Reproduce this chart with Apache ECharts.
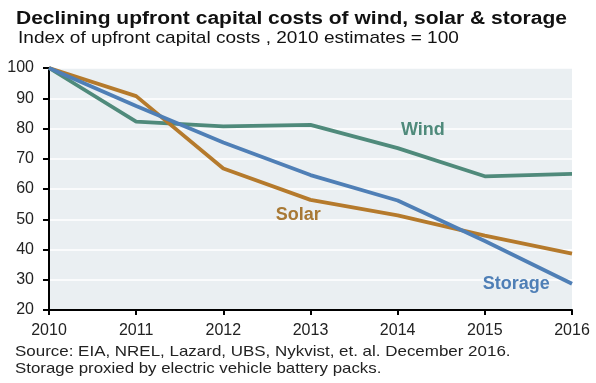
<!DOCTYPE html>
<html><head><meta charset="utf-8">
<script src="https://cdn.jsdelivr.net/npm/echarts@6/dist/echarts.min.js"></script>
<style>html,body{margin:0;padding:0;background:#fff}#c{width:596px;height:383px}</style>
</head><body><div id="c"></div>
<script>
const years = [2010, 2011, 2012, 2013, 2014, 2015, 2016];
const wind = [100, 82.3, 80.7, 81.2, 73.5, 64.2, 65.0];
const solar = [100, 90.7, 66.8, 56.4, 51.3, 44.6, 38.6];
const storage = [100, 87.4, 75.4, 64.6, 56.2, 42.8, 28.7];
const yTicks = [20, 30, 40, 50, 60, 70, 80, 90, 100];
const titleText = 'Declining upfront capital costs of wind, solar & storage';
const subtitleText = 'Index of upfront capital costs , 2010 estimates = 100';
const source1 = 'Source: EIA, NREL, Lazard, UBS, Nykvist, et. al. December 2016.';
const source2 = 'Storage proxied by electric vehicle battery packs.';
const labelPos = { Wind: [2014.29, 79.6], Solar: [2012.86, 51.5], Storage: [2015.36, 28.5] };

const font = 'Arial, "Liberation Sans", sans-serif';
const colors = { Wind: '#4f8a7b', Solar: '#b57a2c', Storage: '#4f7fb6' };
const labelColors = { Wind: '#4f8a7b', Solar: '#a87935', Storage: '#4f7fb6' };

function mk(name, data) {
  return {
    name, type: 'line', data: years.map((y, i) => [y, data[i]]),
    symbol: 'none', lineStyle: { width: 3.8, color: colors[name] }, color: colors[name],
    z: name === 'Storage' ? 4 : (name === 'Solar' ? 3 : 2),
    markPoint: {
      symbol: 'circle', symbolSize: 0,
      data: [{ coord: labelPos[name], value: name }],
      label: { show: true, position: 'inside', formatter: name, color: labelColors[name],
        fontFamily: font, fontWeight: 'bold', fontSize: 18 }
    }
  };
}

function txt(text, x, y, size, weight, sx, color) {
  return { type: 'text', x: x, y: y, scaleX: sx, silent: true,
    style: { text: text, fontFamily: font, fontSize: size, fontWeight: weight,
      fill: color, verticalAlign: 'middle', align: 'left' } };
}

const chart = echarts.init(document.getElementById('c'), null, { renderer: 'canvas' });
chart.setOption({
  animation: false,
  graphic: [
    txt(titleText, 16, 19.5, 18, 'bold', 1.167, '#111'),
    txt(subtitleText, 18, 38, 17, 'normal', 1.12, '#111'),
    txt(source1, 15, 351.5, 15, 'normal', 1.13, '#222'),
    txt(source2, 15, 369, 15, 'normal', 1.124, '#222')
  ],
  grid: { left: 49, right: 24, top: 68, bottom: 73, show: true, backgroundColor: '#eaeff2', borderWidth: 0 },
  xAxis: {
    type: 'value', min: 2010, max: 2016, interval: 1,
    axisLine: { lineStyle: { color: '#000', width: 2 } },
    axisTick: { show: true, length: 5, lineStyle: { color: '#000', width: 2 } },
    axisLabel: { color: '#222', fontFamily: font, fontSize: 16, margin: 13, formatter: v => String(v) },
    splitLine: { show: false }
  },
  yAxis: {
    type: 'value', min: 20, max: 100, interval: 10,
    axisLine: { show: true, lineStyle: { color: '#000', width: 2 } },
    axisTick: { show: true, length: 6, lineStyle: { color: '#000', width: 2 } },
    axisLabel: { color: '#222', fontFamily: font, fontSize: 16, margin: 15,
      formatter: v => yTicks.includes(v) ? String(v) : '' },
    splitLine: { show: true, lineStyle: { color: '#ffffff', width: 1.5 } }
  },
  series: [mk('Wind', wind), mk('Solar', solar), mk('Storage', storage)]
});
</script></body></html>
